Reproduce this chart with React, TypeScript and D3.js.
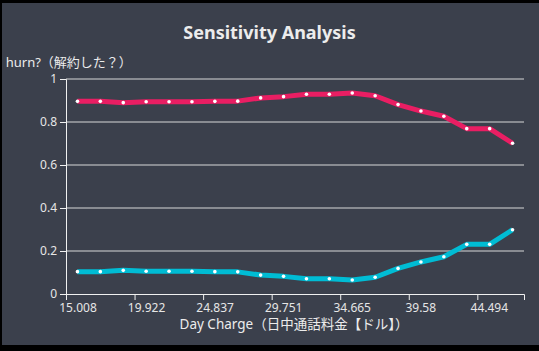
import React from 'react'
import * as d3 from 'd3'

// bin centres of Day Charge and predicted probabilities
const charge = [15.829, 17.470, 19.112, 20.754, 22.395, 24.037, 25.678, 27.320, 28.962, 30.603,
  32.245, 33.886, 35.528, 37.170, 38.811, 40.453, 42.094, 43.736, 45.378, 47.019]
const churnYes = [0.896, 0.896, 0.890, 0.894, 0.894, 0.894, 0.896, 0.897, 0.912, 0.918,
  0.929, 0.929, 0.935, 0.922, 0.881, 0.851, 0.827, 0.769, 0.769, 0.701]
const churnNo = [0.104, 0.104, 0.110, 0.106, 0.106, 0.106, 0.104, 0.103, 0.088, 0.082,
  0.071, 0.071, 0.065, 0.078, 0.119, 0.149, 0.173, 0.231, 0.231, 0.299]
const xTicks = [15.008, 19.922, 24.837, 29.751, 34.665, 39.58, 44.494]
const xDomain = [15.008, 47.84]
const yTicks = [0, 0.2, 0.4, 0.6, 0.8, 1]
const seriesColors = ['#e91e63', '#00bcd4']

const W = 537
const H = 342
const margin = {top: 76, right: 15, bottom: 51, left: 64}
const font = '"Noto Sans", "Noto Sans CJK JP", sans-serif'

export default function App() {
  const xScale = d3.scaleLinear().domain(xDomain).range([margin.left, W - margin.right])
  const yScale = d3.scaleLinear().domain([0, 1]).range([H - margin.bottom, margin.top])

  const xRef = React.useRef<SVGGElement>(null)
  const yRef = React.useRef<SVGGElement>(null)

  React.useEffect(() => {
    const xAxis = d3.select(xRef.current!)
    xAxis.call(d3.axisBottom(xScale).tickValues(xTicks).tickFormat(d => String(d)))
    xAxis.select('.domain').attr('stroke', '#f0f0f0')
    xAxis.selectAll('.tick line').attr('stroke', '#f0f0f0')
    // labels sit a little to the right of their tick in the original
    xAxis.selectAll('.tick text').attr('x', 11.5)
      .attr('fill', '#e6e6e6').attr('font-size', 12).attr('font-family', font)

    const yAxis = d3.select(yRef.current!)
    yAxis.call(d3.axisLeft(yScale).tickValues(yTicks).tickFormat(d => String(d)))
    yAxis.select('.domain').attr('stroke', '#f0f0f0')
    yAxis.selectAll('.tick line').attr('stroke', '#f0f0f0')
    yAxis.selectAll('.tick text').attr('fill', '#e6e6e6').attr('font-size', 12).attr('font-family', font)
  }, [])

  const line = d3.line<number>()
    .x((d, i) => xScale(charge[i]))
    .y(d => yScale(d))

  const series = [churnYes, churnNo]

  return (
    <div style={{position: 'fixed', left: 0, top: 0, width: 539, height: 351, background: '#000'}}>
      <svg width={539} height={351} style={{display: 'block'}}>
        <rect width={539} height={351} fill="#000" />
        <svg x={2} y={3} width={W} height={H} overflow="hidden">
          <defs>
            <clipPath id="ylabelClip">
              <rect x={4.2} y={0} width={W} height={H} />
            </clipPath>
          </defs>
          <rect width={W} height={H} fill="#3b404c" />
          <text x={W / 2 - 1} y={36} textAnchor="middle" fill="#ececec" fontSize={18}
            fontWeight="bold" fontFamily={font}>Sensitivity Analysis</text>
          <text x={-4.5} y={64} fill="#ececec" fontSize={13} fontFamily={font}
            clipPath="url(#ylabelClip)">Churn?（解約した？）</text>
          <g id="grid">
            {yTicks.filter(t => t > 0).map(t => (
              <line key={t} x1={margin.left} x2={W - margin.right} y1={yScale(t)} y2={yScale(t)}
                stroke="#d8d8d8" strokeWidth={1} />
            ))}
          </g>
          <g ref={xRef} transform={`translate(0,${H - margin.bottom})`} />
          <g ref={yRef} transform={`translate(${margin.left},0)`} />
          <g id="lines">
            {series.map((s, k) => (
              <g key={k}>
                <path d={line(s) || ''} fill="none" stroke={seriesColors[k]} strokeWidth={5}
                  strokeLinejoin="round" />
                {s.map((v, i) => (
                  <circle key={i} cx={xScale(charge[i])} cy={yScale(v)} r={1.8} fill="#fff" />
                ))}
              </g>
            ))}
          </g>
          <text x={292} y={325.5} textAnchor="middle" fill="#ececec"
            fontSize={13.5} fontFamily={font}>Day Charge（日中通話料金【ドル】）</text>
        </svg>
      </svg>
    </div>
  )
}
